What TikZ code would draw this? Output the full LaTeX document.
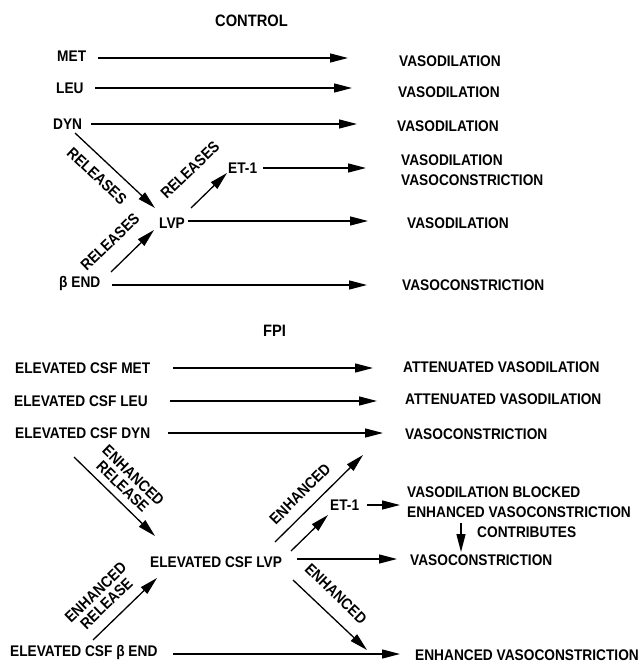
\documentclass[tikz,border=0pt]{standalone}
\usepackage{fontspec}
\setmainfont{Liberation Sans}[FakeStretch=0.89]
\usetikzlibrary{arrows.meta,calc}
\begin{document}
\begin{tikzpicture}[x=1pt,y=-1pt,
  txt/.style={inner sep=0pt, anchor=west, font=\fontsize{15.4}{20}\selectfont\bfseries},
  two/.style={txt, align=left},
  head/.style={inner sep=0pt, font=\fontsize{16.5}{18}\selectfont\bfseries},
  lbl/.style={inner sep=0pt, align=center, font=\fontsize{15.6}{15.5}\selectfont\bfseries},
  arr/.style={line width=1.3pt, -{Triangle[length=18pt,width=9pt]}},
]
\fill[white] (0,0) rectangle (641,663);
\useasboundingbox (0,0) rectangle (641,663);

% ---------------- CONTROL ----------------
\node[head] (ctl) at (251.5,21) {CONTROL};
\node[txt] (met) at (57,56) {MET};
\node[txt] (leu) at (56,88) {LEU};
\node[txt] (dyn) at (53,124) {DYN};
\node[txt] (et1) at (228,168) {ET-1};
\node[txt] (lvp) at (159,223) {LVP};
\node[txt] (bend) at (59,284) {β END};

\node[txt] (vd1) at (399,61) {VASODILATION};
\node[txt] (vd2) at (398,92) {VASODILATION};
\node[txt] (vd3) at (397,126) {VASODILATION};
\node[two] (vdc) at (401,170) {VASODILATION\\VASOCONSTRICTION};
\node[txt] (vd5) at (407,223) {VASODILATION};
\node[txt] (vc1) at (402,285) {VASOCONSTRICTION};

\node[lbl, rotate=-43] (rel1) at (97,176) {RELEASES};
\node[lbl, rotate=44] (rel2) at (110,242) {RELEASES};
\node[lbl, rotate=44] (rel3) at (190,170) {RELEASES};

\draw[arr] ($(met.west)+(41,2)$) -- ($(vd1.west)+(-51,-3)$);
\draw[arr] ($(leu.west)+(39,0)$) -- ($(vd2.west)+(-46,-4)$);
\draw[arr] ($(dyn.west)+(38,0)$) -- ($(vd3.west)+(-40,-2)$);
\draw[arr] ($(et1.west)+(35,0)$) -- ($(vdc.west)+(-35,-2)$);
\draw[arr] ($(lvp.west)+(29,-2)$) -- ($(vd5.west)+(-39,-2)$);
\draw[arr] ($(bend.west)+(53,1)$) -- ($(vc1.west)+(-35,0)$);

\draw[arr] ($(dyn.west)+(22,9)$) -- ($(lvp.west)+(-4,-15)$);
\draw[arr] ($(bend.west)+(52,-12)$) -- ($(lvp.west)+(-5,7)$);
\draw[arr] ($(lvp.west)+(32,-15)$) -- ($(et1.west)+(-1,5)$);

% ---------------- FPI ----------------
\node[head] (fpi) at (274.5,331) {FPI};
\node[txt] (emet) at (15,368) {ELEVATED CSF MET};
\node[txt] (eleu) at (14,401) {ELEVATED CSF LEU};
\node[txt] (edyn) at (15,433) {ELEVATED CSF DYN};
\node[txt] (elvp) at (150,562) {ELEVATED CSF LVP};
\node[txt] (eet1) at (330,505) {ET-1};
\node[txt] (ebend) at (10,653) {ELEVATED CSF β END};

\node[txt] (av1) at (403,367) {ATTENUATED VASODILATION};
\node[txt] (av2) at (405,399) {ATTENUATED VASODILATION};
\node[txt] (vc2) at (405,434) {VASOCONSTRICTION};
\node[two] (vb) at (407,502) {VASODILATION BLOCKED\\ENHANCED VASOCONSTRICTION};
\node[txt] (contr) at (477,532) {CONTRIBUTES};
\node[txt] (vc3) at (410,560) {VASOCONSTRICTION};
\node[txt] (evc) at (415,655) {ENHANCED VASOCONSTRICTION};

\node[lbl, rotate=-44] (er1) at (128,481) {ENHANCED\\RELEASE};
\node[lbl, rotate=45] (enh1) at (300,494) {ENHANCED};
\node[lbl, rotate=-44] (enh2) at (336,594) {ENHANCED};
\node[lbl, rotate=44] (er2) at (101,598) {ENHANCED\\RELEASE};

\draw[arr] ($(emet.west)+(158,0)$) -- ($(av1.west)+(-30,1)$);
\draw[arr] ($(eleu.west)+(156,0)$) -- ($(av2.west)+(-28,2)$);
\draw[arr] ($(edyn.west)+(153,0)$) -- ($(vc2.west)+(-22,-1)$);
\draw[arr] ($(eet1.west)+(37,0)$) -- ($(vb.west)+(-7,3)$);
\draw[arr] ($(elvp.west)+(147,-3)$) -- ($(vc3.west)+(-13,-1)$);
\draw[arr] ($(ebend.west)+(163,1)$) -- ($(evc.west)+(-15,-1)$);
\draw[arr] ($(vb.west)+(54,21)$) -- ($(vc3.west)+(51,-8)$);

\draw[arr] ($(edyn.west)+(59,24)$) -- ($(elvp.west)+(5,-26)$);
\draw[arr] ($(ebend.west)+(83,-13)$) -- ($(elvp.west)+(7,16)$);
\draw[arr] ($(elvp.west)+(141,-11)$) -- ($(eet1.west)+(-2,10)$);
\draw[arr] ($(elvp.west)+(125,-20)$) -- ($(vc2.west)+(-42,21)$);
\draw[arr] ($(elvp.west)+(143,18)$) -- ($(evc.west)+(-48,-5)$);
\end{tikzpicture}
\end{document}
